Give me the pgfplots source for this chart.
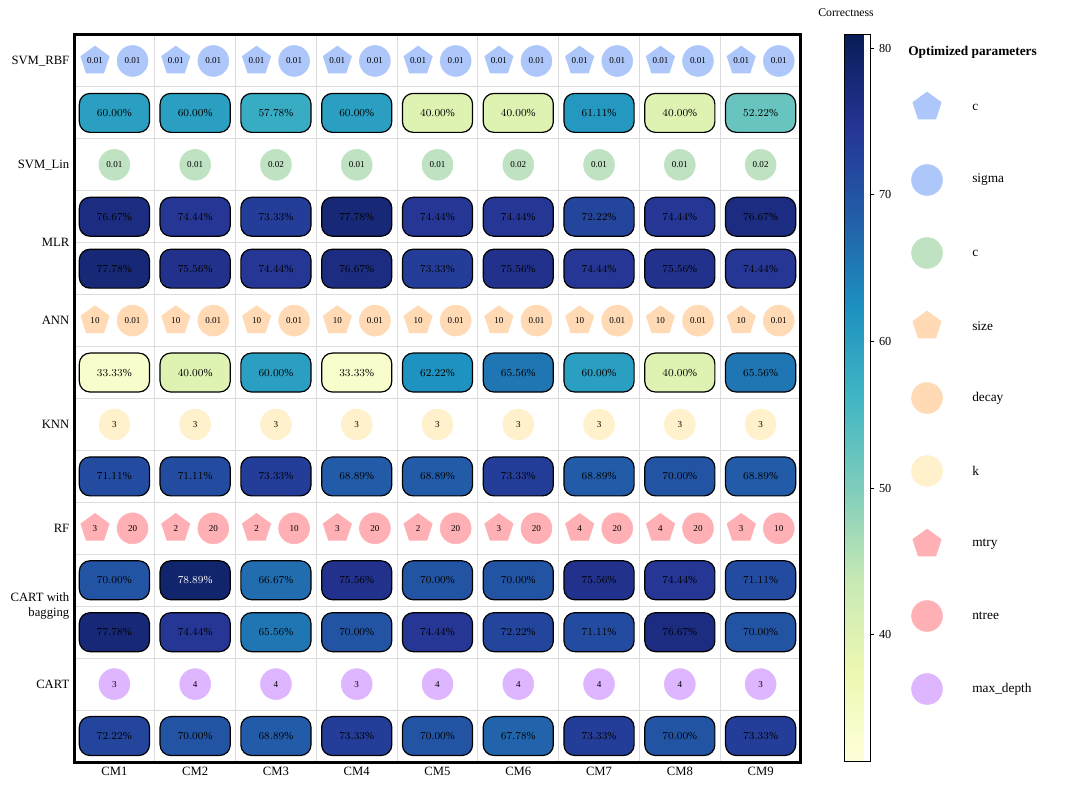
\documentclass[border=0pt]{standalone}
\usepackage{fontspec}
\setmainfont{Liberation Serif}
\usepackage{pgfplots}
\pgfplotsset{compat=1.18}
\usepackage{pgfplotstable}

\definecolor{blueC}{RGB}{174,199,250}
\definecolor{greenC}{RGB}{191,226,194}
\definecolor{orangeC}{RGB}{255,218,181}
\definecolor{yellowC}{RGB}{255,241,204}
\definecolor{pinkC}{RGB}{255,176,180}
\definecolor{purpleC}{RGB}{222,181,255}
\definecolor{gridC}{RGB}{220,220,220}

\pgfdeclareplotmark{mypent}{%
  \pgfpathmoveto{\pgfpointpolar{90}{\pgfplotmarksize}}%
  \pgfpathlineto{\pgfpointpolar{162}{\pgfplotmarksize}}%
  \pgfpathlineto{\pgfpointpolar{234}{\pgfplotmarksize}}%
  \pgfpathlineto{\pgfpointpolar{306}{\pgfplotmarksize}}%
  \pgfpathlineto{\pgfpointpolar{18}{\pgfplotmarksize}}%
  \pgfpathclose\pgfusepathqfill}

% correctness (%), x = column centre, y = row centre (rows counted from top)
\pgfplotstableread{
x y v
0.5 1.5 60.00
1.5 1.5 60.00
2.5 1.5 57.78
3.5 1.5 60.00
4.5 1.5 40.00
5.5 1.5 40.00
6.5 1.5 61.11
7.5 1.5 40.00
8.5 1.5 52.22
0.5 3.5 76.67
1.5 3.5 74.44
2.5 3.5 73.33
3.5 3.5 77.78
4.5 3.5 74.44
5.5 3.5 74.44
6.5 3.5 72.22
7.5 3.5 74.44
8.5 3.5 76.67
0.5 4.5 77.78
1.5 4.5 75.56
2.5 4.5 74.44
3.5 4.5 76.67
4.5 4.5 73.33
5.5 4.5 75.56
6.5 4.5 74.44
7.5 4.5 75.56
8.5 4.5 74.44
0.5 6.5 33.33
1.5 6.5 40.00
2.5 6.5 60.00
3.5 6.5 33.33
4.5 6.5 62.22
5.5 6.5 65.56
6.5 6.5 60.00
7.5 6.5 40.00
8.5 6.5 65.56
0.5 8.5 71.11
1.5 8.5 71.11
2.5 8.5 73.33
3.5 8.5 68.89
4.5 8.5 68.89
5.5 8.5 73.33
6.5 8.5 68.89
7.5 8.5 70.00
8.5 8.5 68.89
0.5 10.5 70.00
1.5 10.5 78.89
2.5 10.5 66.67
3.5 10.5 75.56
4.5 10.5 70.00
5.5 10.5 70.00
6.5 10.5 75.56
7.5 10.5 74.44
8.5 10.5 71.11
0.5 11.5 77.78
1.5 11.5 74.44
2.5 11.5 65.56
3.5 11.5 70.00
4.5 11.5 74.44
5.5 11.5 72.22
6.5 11.5 71.11
7.5 11.5 76.67
8.5 11.5 70.00
0.5 13.5 72.22
1.5 13.5 70.00
2.5 13.5 68.89
3.5 13.5 73.33
4.5 13.5 70.00
5.5 13.5 67.78
6.5 13.5 73.33
7.5 13.5 70.00
8.5 13.5 73.33
}\acc

\pgfplotstableread{
x y p
0.26 0.5 0.01
1.26 0.5 0.01
2.26 0.5 0.01
3.26 0.5 0.01
4.26 0.5 0.01
5.26 0.5 0.01
6.26 0.5 0.01
7.26 0.5 0.01
8.26 0.5 0.01
}\svmc
\pgfplotstableread{
x y p
0.725 0.5 0.01
1.725 0.5 0.01
2.725 0.5 0.01
3.725 0.5 0.01
4.725 0.5 0.01
5.725 0.5 0.01
6.725 0.5 0.01
7.725 0.5 0.01
8.725 0.5 0.01
}\svmsigma
\pgfplotstableread{
x y p
0.5 2.5 0.01
1.5 2.5 0.01
2.5 2.5 0.02
3.5 2.5 0.01
4.5 2.5 0.01
5.5 2.5 0.02
6.5 2.5 0.01
7.5 2.5 0.01
8.5 2.5 0.02
}\linc
\pgfplotstableread{
x y p
0.26 5.5 10
1.26 5.5 10
2.26 5.5 10
3.26 5.5 10
4.26 5.5 10
5.26 5.5 10
6.26 5.5 10
7.26 5.5 10
8.26 5.5 10
}\annsize
\pgfplotstableread{
x y p
0.725 5.5 0.01
1.725 5.5 0.01
2.725 5.5 0.01
3.725 5.5 0.01
4.725 5.5 0.01
5.725 5.5 0.01
6.725 5.5 0.01
7.725 5.5 0.01
8.725 5.5 0.01
}\anndecay
\pgfplotstableread{
x y p
0.5 7.5 3
1.5 7.5 3
2.5 7.5 3
3.5 7.5 3
4.5 7.5 3
5.5 7.5 3
6.5 7.5 3
7.5 7.5 3
8.5 7.5 3
}\knnk
\pgfplotstableread{
x y p
0.26 9.5 3
1.26 9.5 2
2.26 9.5 2
3.26 9.5 3
4.26 9.5 2
5.26 9.5 3
6.26 9.5 4
7.26 9.5 4
8.26 9.5 3
}\rfmtry
\pgfplotstableread{
x y p
0.725 9.5 20
1.725 9.5 20
2.725 9.5 10
3.725 9.5 20
4.725 9.5 20
5.725 9.5 20
6.725 9.5 20
7.725 9.5 20
8.725 9.5 10
}\rfntree
\pgfplotstableread{
x y p
0.5 12.5 3
1.5 12.5 4
2.5 12.5 4
3.5 12.5 3
4.5 12.5 4
5.5 12.5 4
6.5 12.5 4
7.5 12.5 4
8.5 12.5 3
}\cartdepth

\pgfplotsset{
  parstyle/.style={only marks, point meta=explicit symbolic,
    nodes near coords={\pgfplotspointmeta},
    nodes near coords style={anchor=center, text=black, font=\fontsize{6.8}{7}\selectfont}},
  pent/.style={parstyle, mark=mypent, mark size=11.5pt, color=#1},
  circ/.style={parstyle, mark=*, mark size=11.6pt, color=#1, mark options={draw=none, fill=#1}},
}

\begin{document}
\begin{tikzpicture}
\path[use as bounding box] (0,0) rectangle (810pt,591pt);
\begin{axis}[
  at={(55.5pt,19.5pt)}, anchor=south west,
  scale only axis, width=545.25pt, height=545.25pt,
  xmin=0, xmax=9, ymin=0, ymax=14, y dir=reverse,
  xtick={0.5,1.5,...,8.5},
  xticklabels={CM1,CM2,CM3,CM4,CM5,CM6,CM7,CM8,CM9},
  ytick={0.5,2.5,4,5.5,7.5,9.5,11,12.5},
  yticklabels={SVM\_RBF,SVM\_Lin,MLR,ANN,KNN,RF,{CART with\\bagging},CART},
  yticklabel style={align=right, font=\fontsize{9.5}{11.5}\selectfont},
  xticklabel style={font=\fontsize{9.5}{11}\selectfont},
  minor xtick={1,...,8}, minor ytick={1,...,13},
  xminorgrids=true, yminorgrids=true,
  minor grid style={color=gridC, line width=0.75pt},
  major tick length=0pt, minor tick length=0pt,
  axis line style={line width=2.25pt},
  clip=false,
  colormap={ylgnbu}{rgb255=(255,255,217) rgb255=(237,248,177) rgb255=(199,233,180) rgb255=(127,205,187) rgb255=(65,182,196) rgb255=(29,145,192) rgb255=(34,94,168) rgb255=(37,52,148) rgb255=(8,29,88)},
  point meta min=31.33, point meta max=80.89,
  colorbar,
  colorbar style={
    at={(parent axis.north east)}, anchor=north west, xshift=24pt,
    scale only axis, width=19.5pt, height=545.25pt,
    ytick={40,50,60,70,80},
    /pgf/number format/assume math mode=true,
    yticklabel style={font=\fontsize{9.2}{10}\selectfont},
    yticklabel pos=right, ytick pos=right,
    tick align=outside, major tick length=3pt,
    tick style={black, line width=0.6pt},
    axis line style={line width=0.75pt},
  },
]
% correctness cells: rounded boxes coloured through the colormap by their value
\addplot[scatter, only marks, mark=none,
  scatter/@pre marker code/.code={},
  scatter/@post marker code/.code={},
  point meta=\thisrow{v},
  nodes near coords={\ifdim\pgfplotspointmetatransformed pt>950pt\color{white}\fi\pgfmathprintnumber[fixed, fixed zerofill, precision=2]{\pgfplotspointmeta}\%},
  nodes near coords style={
    /utils/exec={\expandafter\pgfplotscolormapdefinemappedcolor\expandafter{\pgfplotspointmetatransformed}},
    anchor=center, draw=black, fill=mapped color, text=black,
    rounded corners=8pt, line width=0.9pt, inner sep=0pt,
    minimum width=52.6pt, minimum height=29.2pt,
    font=\fontsize{8.1}{9}\selectfont},
] table[x=x, y=y] {\acc};

\addplot[pent=blueC] table[x=x, y=y, meta=p] {\svmc};
\addplot[circ=blueC] table[x=x, y=y, meta=p] {\svmsigma};
\addplot[circ=greenC] table[x=x, y=y, meta=p] {\linc};
\addplot[pent=orangeC] table[x=x, y=y, meta=p] {\annsize};
\addplot[circ=orangeC] table[x=x, y=y, meta=p] {\anndecay};
\addplot[circ=yellowC] table[x=x, y=y, meta=p] {\knnk};
\addplot[pent=pinkC] table[x=x, y=y, meta=p] {\rfmtry};
\addplot[circ=pinkC] table[x=x, y=y, meta=p] {\rfntree};
\addplot[circ=purpleC] table[x=x, y=y, meta=p] {\cartdepth};
\end{axis}

% overlay axis in page pixel coordinates for the legend and colorbar title
\begin{axis}[
  at={(0pt,0pt)}, anchor=south west,
  scale only axis, width=810pt, height=591pt,
  xmin=0, xmax=1080, ymin=0, ymax=788, y dir=reverse,
  hide axis, clip=false,
]
\addplot[only marks, mark=mypent, mark size=11.5pt, color=blueC] coordinates {(927,107)};
\addplot[only marks, mark=*, mark size=11.6pt, color=blueC, mark options={draw=none, fill=blueC}] coordinates {(927,180)};
\addplot[only marks, mark=*, mark size=11.6pt, color=greenC, mark options={draw=none, fill=greenC}] coordinates {(927,253)};
\addplot[only marks, mark=mypent, mark size=11.5pt, color=orangeC] coordinates {(927,326)};
\addplot[only marks, mark=*, mark size=11.6pt, color=orangeC, mark options={draw=none, fill=orangeC}] coordinates {(927,398)};
\addplot[only marks, mark=*, mark size=11.6pt, color=yellowC, mark options={draw=none, fill=yellowC}] coordinates {(927,471)};
\addplot[only marks, mark=mypent, mark size=11.5pt, color=pinkC] coordinates {(927,544)};
\addplot[only marks, mark=*, mark size=11.6pt, color=pinkC, mark options={draw=none, fill=pinkC}] coordinates {(927,616)};
\addplot[only marks, mark=*, mark size=11.6pt, color=purpleC, mark options={draw=none, fill=purpleC}] coordinates {(927,689)};
\begin{scope}[every node/.style={anchor=west, font=\fontsize{10}{12}\selectfont, inner sep=0pt}]
\node at (axis cs:972,107) {c};
\node at (axis cs:972,180) {sigma};
\node at (axis cs:972,253) {c};
\node at (axis cs:972,326) {size};
\node at (axis cs:972,398) {decay};
\node at (axis cs:972,471) {k};
\node at (axis cs:972,544) {mtry};
\node at (axis cs:972,616) {ntree};
\node at (axis cs:972,689) {max\_depth};
\end{scope}
\node[anchor=west, inner sep=0pt, font=\bfseries\fontsize{10}{12}\selectfont] at (axis cs:908,52) {Optimized parameters};
\node[inner sep=0pt, font=\fontsize{8.8}{10}\selectfont] at (axis cs:846,13) {Correctness};
\end{axis}
\end{tikzpicture}
\end{document}
